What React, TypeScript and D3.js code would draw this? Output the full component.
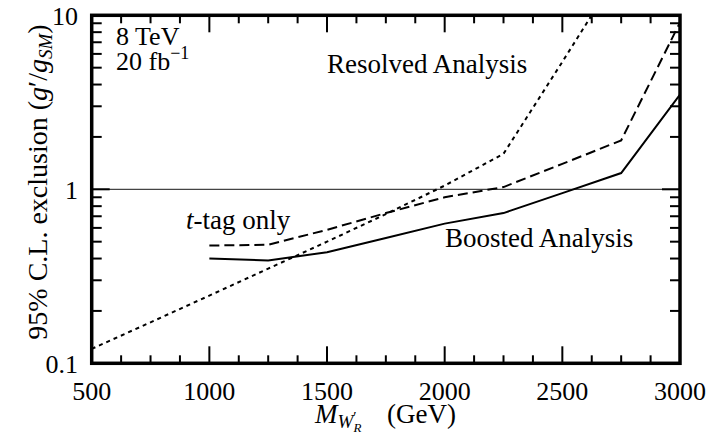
import React, {Component, createRef} from 'react';
import * as d3 from 'd3';

// W'_R coupling limits
const masses = [1000, 1250, 1500, 1750, 2000, 2250, 2500, 2750, 3000];
const boosted = [0.40, 0.39, 0.435, 0.525, 0.635, 0.73, 0.95, 1.24, 3.5];
const tagOnly = [0.475, 0.48, 0.585, 0.73, 0.90, 1.03, 1.40, 1.91, 9.1];
const resolvedMasses = [500, 750, 1000, 1250, 1500, 1750, 2000, 2250, 2500, 2750];
const resolved = [0.121, 0.172, 0.245, 0.35, 0.50, 0.72, 1.05, 1.6, 5.4, 18.6];

const xTicks = [500, 1000, 1500, 2000, 2500, 3000];
const xTickLabels = ['500', '1000', '1500', '2000', '2500', '3000'];
const yTicks = [0.1, 1, 10];
const yTickLabels = ['0.1', '1', '10'];

const FONT = '"Liberation Serif", "Times New Roman", serif';

class WprimeLimits extends Component {
  box = createRef<HTMLDivElement>();

  render() {
    return <div ref={this.box} style={{position: 'absolute', left: 0, top: 0}} />;
  }

  componentDidMount() {
    const me = this;
    const box = me.box.current;
    const width = 713;
    const height = 434;
    d3.select(box).selectAll('*').remove();

    const svg = d3.select(box)
      .append('svg')
      .attr('width', width)
      .attr('height', height)
      .style('display', 'block')
      .style('background', '#fff');

    const left = 91.7, right = 680, top = 15.3, bottom = 363.3;

    const x = d3.scaleLinear().domain([500, 3000]).range([left, right]);
    const y = d3.scaleLog().domain([0.1, 10]).range([bottom, top]);

    svg.append('defs').append('clipPath').attr('id', 'plotClip')
      .append('rect')
      .attr('x', left).attr('y', top)
      .attr('width', right - left).attr('height', bottom - top);

    // reference line at 1
    svg.append('line')
      .attr('x1', left).attr('x2', right)
      .attr('y1', y(1)).attr('y2', y(1))
      .attr('stroke', '#444')
      .attr('stroke-width', 1.2);

    // ticks
    const ticks = svg.append('g').attr('stroke', '#000').attr('stroke-width', 2);
    d3.range(500, 3001, 125).forEach(v => {
      const major = v % 500 === 0;
      const len = major ? 17 : 8;
      ticks.append('line').attr('x1', x(v)).attr('x2', x(v)).attr('y1', bottom).attr('y2', bottom - len);
      ticks.append('line').attr('x1', x(v)).attr('x2', x(v)).attr('y1', top).attr('y2', top + len);
    });
    y.ticks().forEach(v => {
      const major = Math.abs(Math.log10(v) - Math.round(Math.log10(v))) < 1e-6;
      const len = major ? 18 : 10;
      ticks.append('line').attr('x1', left).attr('x2', left + len).attr('y1', y(v)).attr('y2', y(v));
      ticks.append('line').attr('x1', right).attr('x2', right - len).attr('y1', y(v)).attr('y2', y(v));
    });

    // curves
    const line = d3.line<[number, number]>()
      .x(d => x(d[0]))
      .y(d => y(d[1]));
    const plot = svg.append('g').attr('clip-path', 'url(#plotClip)');
    me._createCurve(plot, line, resolvedMasses.map((m, i) => [m, resolved[i]]), '4,4');
    me._createCurve(plot, line, masses.map((m, i) => [m, tagOnly[i]]), '10,5');
    me._createCurve(plot, line, masses.map((m, i) => [m, boosted[i]]), null);

    // frame
    svg.append('rect')
      .attr('x', left).attr('y', top)
      .attr('width', right - left).attr('height', bottom - top)
      .attr('fill', 'none')
      .attr('stroke', '#000')
      .attr('stroke-width', 3.5);

    // tick labels
    xTicks.forEach((v, i) => {
      me._createText(svg, x(v), 400, 26, 'middle', xTickLabels[i]);
    });
    yTicks.forEach((v, i) => {
      me._createText(svg, 78, y(v) + 10, 26, 'end', yTickLabels[i]);
    });

    // annotations
    me._createText(svg, 116, 45, 26, 'start', '8 TeV');
    const lumi = me._createText(svg, 116, 70, 26, 'start', '20 fb');
    lumi.append('tspan').attr('font-size', 18).attr('dy', -11).text('\u22121');

    me._createText(svg, 327, 73, 27, 'start', 'Resolved Analysis');
    me._createText(svg, 445, 247, 27, 'start', 'Boosted Analysis');
    const tag = me._createText(svg, 186, 229, 27, 'start', '');
    tag.append('tspan').attr('font-style', 'italic').text('t');
    tag.append('tspan').text('-tag only');

    // x title
    const xt = me._createText(svg, 315, 423, 27, 'start', '');
    xt.append('tspan').attr('font-style', 'italic').text('M');
    xt.append('tspan').attr('font-style', 'italic').attr('font-size', 19).attr('dy', 5).text('W');
    xt.append('tspan').attr('font-size', 15).attr('dy', -6).text('\u2032');
    xt.append('tspan').attr('font-style', 'italic').attr('font-size', 13).attr('dx', -3).attr('dy', 10).text('R');
    xt.append('tspan').attr('x', 387).attr('y', 423).text('(GeV)');

    // y title
    const yt = svg.append('text')
      .attr('transform', 'translate(47,182) rotate(-90)')
      .attr('text-anchor', 'middle')
      .attr('font-size', 28)
      .attr('font-family', FONT)
      .attr('fill', '#000');
    yt.append('tspan').text('95% C.L. exclusion (');
    yt.append('tspan').attr('font-style', 'italic').text('g');
    yt.append('tspan').text('\u2032/');
    yt.append('tspan').attr('font-style', 'italic').text('g');
    yt.append('tspan').attr('font-style', 'italic').attr('font-size', 19).attr('dy', 5).text('SM');
    yt.append('tspan').attr('dy', -5).text(')');
  }

  _createCurve(g, line, points, dash) {
    const path = g.append('path')
      .attr('d', line(points))
      .attr('fill', 'none')
      .attr('stroke', '#000')
      .attr('stroke-width', 2);
    if (dash) path.attr('stroke-dasharray', dash);
    return path;
  }

  _createText(g, x, y, size, anchor, text) {
    return g.append('text')
      .attr('x', x)
      .attr('y', y)
      .attr('font-size', size)
      .attr('font-family', FONT)
      .attr('text-anchor', anchor)
      .attr('fill', '#000')
      .text(text);
  }
}

export default function App() {
  return <WprimeLimits />;
}
